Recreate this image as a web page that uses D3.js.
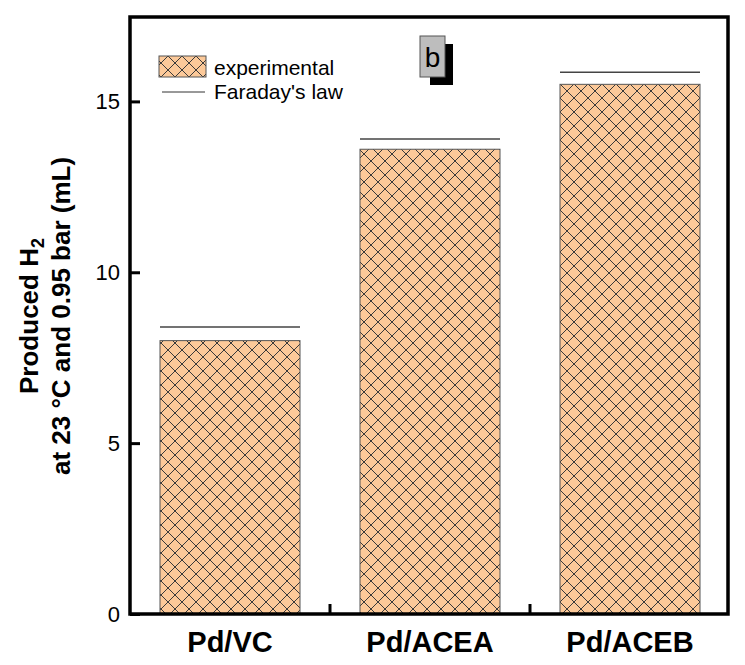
<!DOCTYPE html>
<html><head><meta charset="utf-8">
<script src="https://cdn.jsdelivr.net/npm/d3@7"></script>
<style>body{margin:0;background:#fff}</style>
</head><body>
<svg id="c" width="745" height="665"></svg>
<script>
const categories = ["Pd/VC", "Pd/ACEA", "Pd/ACEB"];
const experimental = [8.0, 13.6, 15.5];
const faraday = [8.4, 13.9, 15.85];
const yTicks = [0, 5, 10, 15];

const svg = d3.select("#c");
const L = 130, R = 730, T = 17, B = 614;
const x = d3.scaleBand().domain(categories).range([L, R]).paddingInner(0.3).paddingOuter(0.15);
const y = d3.scaleLinear().domain([0, 17.47]).range([B, T]);

const defs = svg.append("defs");
const pat = defs.append("pattern").attr("id", "hatch").attr("patternUnits", "userSpaceOnUse")
  .attr("width", 14).attr("height", 14).attr("x", 0).attr("y", 0);
pat.append("rect").attr("width", 14).attr("height", 14).attr("fill", "#FCC999");
pat.append("path").attr("d", "M-1,-1L15,15M-1,15L15,-1").attr("stroke", "#3a3a3a").attr("stroke-width", 1);

const font = "Arial, 'Liberation Sans', sans-serif";

// bars
svg.selectAll("rect.bar").data(categories).enter().append("rect")
  .attr("x", d => x(d)).attr("width", x.bandwidth())
  .attr("y", (d, i) => y(experimental[i])).attr("height", (d, i) => B - y(experimental[i]))
  .attr("fill", "url(#hatch)").attr("stroke", "#555").attr("stroke-width", 1);

// faraday lines
svg.selectAll("line.far").data(categories).enter().append("line")
  .attr("x1", d => x(d)).attr("x2", d => x(d) + x.bandwidth())
  .attr("y1", (d, i) => y(faraday[i])).attr("y2", (d, i) => y(faraday[i]))
  .attr("stroke", "#444").attr("stroke-width", 1.5);

// y axis ticks (inward)
const yAxis = d3.axisRight(y).tickValues(yTicks).tickSize(10).tickFormat("");
const ya = svg.append("g").attr("transform", `translate(${L},0)`).call(yAxis);
ya.select(".domain").remove();
ya.selectAll("line").attr("stroke", "#000").attr("stroke-width", 3);
svg.selectAll("text.yt").data(yTicks).enter().append("text")
  .attr("x", 120).attr("y", d => y(d) + 8).attr("text-anchor", "end")
  .attr("font-family", font).attr("font-size", 22).text(d => d);

// x boundary ticks
const bounds = [x(categories[1]) - x.step() * x.paddingInner() / 2, x(categories[2]) - x.step() * x.paddingInner() / 2];
svg.selectAll("line.xt").data(bounds).enter().append("line")
  .attr("x1", d => d).attr("x2", d => d).attr("y1", B).attr("y2", B - 10)
  .attr("stroke", "#000").attr("stroke-width", 3);

// x labels
svg.selectAll("text.xl").data(categories).enter().append("text")
  .attr("x", d => x(d) + x.bandwidth() / 2).attr("y", 652).attr("text-anchor", "middle")
  .attr("font-family", font).attr("font-weight", "bold").attr("font-size", 29).text(d => d);

// frame
svg.append("rect").attr("x", L).attr("y", T).attr("width", 598).attr("height", B - T)
  .attr("fill", "none").attr("stroke", "#000").attr("stroke-width", 3.5);

// y label
const yl = svg.append("text").attr("transform", `translate(38,316) rotate(-90)`)
  .attr("text-anchor", "middle").attr("font-family", font).attr("font-weight", "bold").attr("font-size", 26);
yl.append("tspan").text("Produced H");
yl.append("tspan").attr("font-size", 18).attr("dy", 6).text("2");
svg.append("text").attr("transform", `translate(70,316) rotate(-90)`)
  .attr("text-anchor", "middle").attr("font-family", font).attr("font-weight", "bold").attr("font-size", 26)
  .text("at 23 °C and 0.95 bar (mL)");

// legend
svg.append("rect").attr("x", 159).attr("y", 56).attr("width", 47).attr("height", 21)
  .attr("fill", "url(#hatch)").attr("stroke", "#555").attr("stroke-width", 1);
svg.append("text").attr("x", 214).attr("y", 75).attr("font-family", font).attr("font-size", 21).text("experimental");
svg.append("line").attr("x1", 162).attr("x2", 205).attr("y1", 92).attr("y2", 92).attr("stroke", "#333").attr("stroke-width", 1);
svg.append("text").attr("x", 214).attr("y", 99).attr("font-family", font).attr("font-size", 21).text("Faraday's law");

// b label
svg.append("rect").attr("x", 430).attr("y", 44).attr("width", 23).attr("height", 41).attr("fill", "#000");
svg.append("rect").attr("x", 420).attr("y", 36).attr("width", 25).attr("height", 41)
  .attr("fill", "#bdbdbd").attr("stroke", "#555").attr("stroke-width", 1);
svg.append("text").attr("x", 432.5).attr("y", 67).attr("text-anchor", "middle")
  .attr("font-family", font).attr("font-size", 28).text("b");
</script>
</body></html>
